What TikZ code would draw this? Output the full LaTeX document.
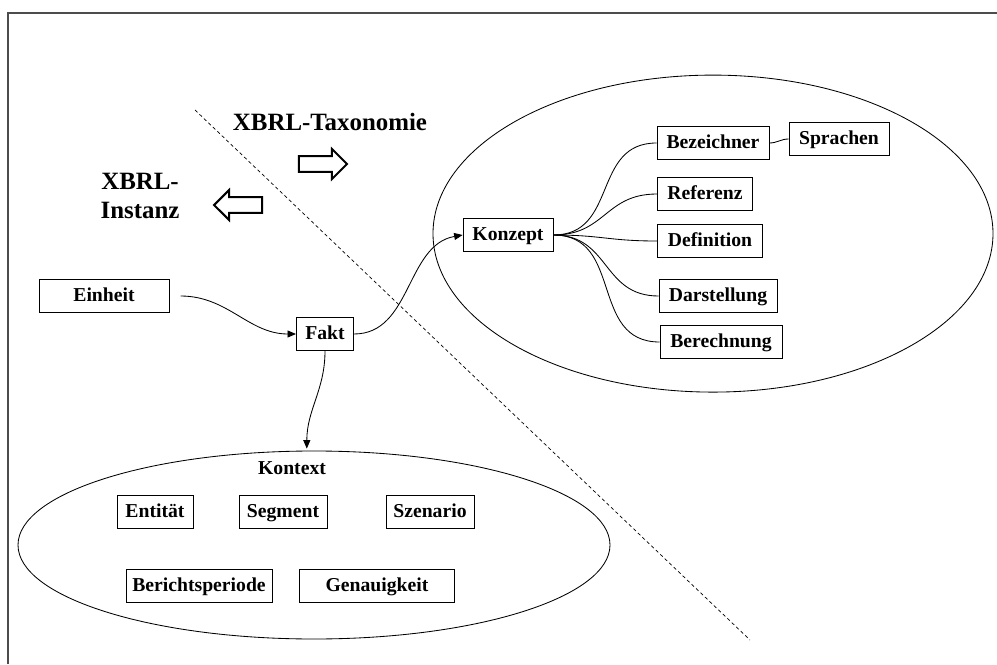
\documentclass[tikz,border=0pt]{standalone}
\usepackage{fontspec}
\setmainfont{Liberation Serif}
\usepackage{tikz}
\usetikzlibrary{%
        arrows.meta,
        shapes.arrows,
        shapes.geometric
    }
\tikzset{%
    box/.style={%
        draw, line width=0.6pt, font=\fontsize{14}{16}\selectfont\bfseries,
        minimum height=0.83cm, inner sep=2pt,
        text height=2.1ex, text depth=0.55ex
    },
    area/.style={%
        ellipse, draw, line width=0.6pt
    },
    bigarrow/.style={%
        single arrow, draw, line width=1.4pt, inner sep=0.17cm,
        minimum height=1.2cm, single arrow head extend=0.18cm
    },
    link/.style={%
        line width=0.6pt
    },
    title/.style={%
        font=\fontsize{17.7}{21}\selectfont\bfseries, align=center
    }
}

\begin{document}
\begin{tikzpicture}

    \useasboundingbox (0, 0) rectangle (24.925, -16.625);

    % Frame
    \draw[black!70, line width=0.9pt]
        (0.2, -16.6) -- (0.2, -0.325) -- (24.925, -0.325);

    % Border between instance and taxonomy
    \draw[line width=0.5pt, dash pattern=on 2.4pt off 2pt]
        (4.875, -2.75) -- (18.75, -16);

    \node[title] (taxonomie) at (8.25, -3.05) {XBRL-Taxonomie};
    \node[title] (instanz) at (3.5, -4.9) {XBRL-\\Instanz};

    \node[bigarrow] (to-taxonomie) at (7.975, -4.1) {};
    \node[bigarrow, shape border rotate=180] (to-instanz) at (6.05, -5.125) {};

    % Taxonomy
    \node[area, minimum width=14cm, minimum height=7.925cm]
        (taxonomie-area) at (17.825, -5.84) {};

    \node[box, minimum width=2.25cm] (konzept) at (12.7, -5.875) {Konzept};
    \node[box, minimum width=2.8cm] (bezeichner) at (17.825, -3.575) {Bezeichner};
    \node[box, minimum width=2.5cm] (sprachen) at (20.975, -3.475) {Sprachen};
    \node[box, minimum width=2.38cm] (referenz) at (17.625, -4.85) {Referenz};
    \node[box, minimum width=2.63cm] (definition) at (17.75, -6.025) {Definition};
    \node[box, minimum width=2.95cm] (darstellung) at (17.95, -7.4) {Darstellung};
    \node[box, minimum width=3.05cm] (berechnung) at (18.025, -8.55) {Berechnung};

    \foreach \target in {bezeichner, referenz, definition, darstellung, berechnung}{%
        \draw[link] (konzept.east) to [out=0, in=180, looseness=1.2] (\target.west);
    };
    \draw[link] (bezeichner.east) to [out=0, in=180] (sprachen.west);

    % Instance
    \node[box, minimum width=3.25cm] (einheit) at (2.6, -7.4) {Einheit};
    \node[box, minimum width=1.43cm] (fakt) at (8.125, -8.35) {Fakt};

    \draw[link, -{Triangle[length=6pt, width=5pt]}]
        ([xshift=0.28cm] einheit.east) to [out=0, in=180] (fakt.west);
    \draw[link, -{Triangle[length=6pt, width=5pt]}]
        (fakt.east) to [out=0, in=190] (konzept.west);

    % Context
    \node[area, minimum width=14.8cm, minimum height=4.7cm]
        (kontext) at (7.85, -13.625) {};
    \node[font=\fontsize{14}{16}\selectfont\bfseries] (kontext-label) at (7.3, -11.7) {Kontext};

    \draw[link, -{Triangle[length=6pt, width=5pt]}]
        (fakt.south) to [out=-90, in=90] ([xshift=-0.18cm, yshift=0.05cm] kontext.north);

    \node[box, minimum width=1.9cm] (entitaet) at (3.875, -12.8) {Entität};
    \node[box, minimum width=2.2cm] (segment) at (7.075, -12.8) {Segment};
    \node[box, minimum width=2.2cm] (szenario) at (10.75, -12.8) {Szenario};
    \node[box, minimum width=3.65cm] (berichtsperiode) at (4.975, -14.65) {Berichtsperiode};
    \node[box, minimum width=3.88cm] (genauigkeit) at (9.425, -14.65) {Genauigkeit};

\end{tikzpicture}
\end{document}
